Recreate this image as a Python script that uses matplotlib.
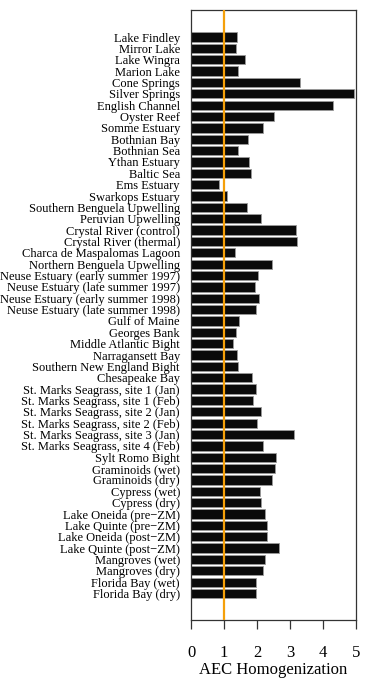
import numpy as np
import matplotlib
matplotlib.use("Agg")
import matplotlib.pyplot as plt

plt.rcParams["font.family"] = ["Liberation Serif", "DejaVu Serif"]

systems = [
    "Lake Findley", "Mirror Lake", "Lake Wingra", "Marion Lake", "Cone Springs",
    "Silver Springs", "English Channel", "Oyster Reef", "Somme Estuary",
    "Bothnian Bay", "Bothnian Sea", "Ythan Estuary", "Baltic Sea", "Ems Estuary",
    "Swarkops Estuary", "Southern Benguela Upwelling", "Peruvian Upwelling",
    "Crystal River (control)", "Crystal River (thermal)",
    "Charca de Maspalomas Lagoon", "Northern Benguela Upwelling",
    "Neuse Estuary (early summer 1997)", "Neuse Estuary (late summer 1997)",
    "Neuse Estuary (early summer 1998)", "Neuse Estuary (late summer 1998)",
    "Gulf of Maine", "Georges Bank", "Middle Atlantic Bight", "Narragansett Bay",
    "Southern New England Bight", "Chesapeake Bay",
    "St. Marks Seagrass, site 1 (Jan)", "St. Marks Seagrass, site 1 (Feb)",
    "St. Marks Seagrass, site 2 (Jan)", "St. Marks Seagrass, site 2 (Feb)",
    "St. Marks Seagrass, site 3 (Jan)", "St. Marks Seagrass, site 4 (Feb)",
    "Sylt Romo Bight", "Graminoids (wet)", "Graminoids (dry)", "Cypress (wet)",
    "Cypress (dry)", "Lake Oneida (pre\u2212ZM)", "Lake Quinte (pre\u2212ZM)",
    "Lake Oneida (post\u2212ZM)", "Lake Quinte (post\u2212ZM)", "Mangroves (wet)",
    "Mangroves (dry)", "Florida Bay (wet)", "Florida Bay (dry)",
]

aec_homog = [
    1.38, 1.35, 1.62, 1.41, 3.29, 4.93, 4.29, 2.50, 2.17, 1.73,
    1.41, 1.77, 1.82, 0.86, 1.10, 1.70, 2.11, 3.19, 3.21, 1.32,
    2.45, 2.04, 1.94, 2.06, 1.97, 1.44, 1.35, 1.28, 1.38, 1.41,
    1.86, 1.96, 1.89, 2.11, 2.01, 3.12, 2.18, 2.56, 2.53, 2.46,
    2.10, 2.13, 2.24, 2.29, 2.30, 2.65, 2.23, 2.17, 1.98, 1.98,
]

fig = plt.figure(figsize=(3.66, 7.0), dpi=100)
ax = fig.add_axes([0.522, 0.114, 0.451, 0.872])

y = np.arange(len(systems))
ax.barh(y, aec_homog, height=0.82, color="#0a0a0a", edgecolor="#9a9a9a",
        linewidth=0.6, zorder=2)
ax.axvline(1, color="#f5a00a", linewidth=1.6, zorder=3)

ax.set_xlim(0, 5)
ax.set_ylim(len(systems) - 1 + 2.35, -2.4)
ax.set_yticks(y)
ax.set_yticklabels(systems, fontsize=9.0)
ax.tick_params(axis="y", length=0, pad=8)
ax.set_xticks(range(6))
ax.tick_params(axis="x", length=6.5, width=0.9, color="#333333",
               direction="out", pad=11, labelsize=12)
ax.set_xlabel("AEC Homogenization", fontsize=12, labelpad=1)

for s in ax.spines.values():
    s.set_color("#333333")
    s.set_linewidth(0.9)

fig.savefig("out.png", dpi=100)
